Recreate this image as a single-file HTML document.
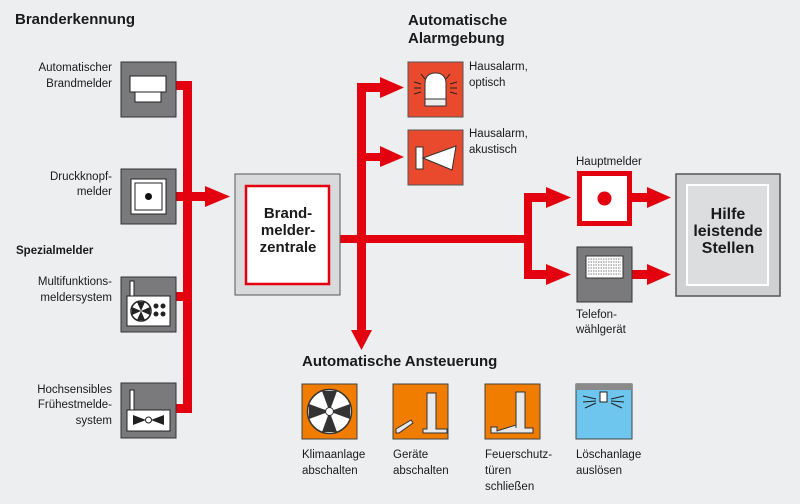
<!DOCTYPE html>
<html><head><meta charset="utf-8"><style>
body{margin:0;background:#edeef0}
svg{display:block}
text{font-family:"Liberation Sans",sans-serif;fill:#1a1a1a}
.b{font-weight:bold}
</style></head><body>
<svg width="800" height="504" viewBox="0 0 800 504">
<rect width="800" height="504" fill="#edeef0"/>
<g font-size="12">
<text x="15" y="24" class="b" font-size="15">Branderkennung</text>
<text x="408" y="25" class="b" font-size="15">Automatische</text>
<text x="408" y="43" class="b" font-size="15">Alarmgebung</text>
<text x="302" y="366" class="b" font-size="15">Automatische Ansteuerung</text>
<text x="16" y="254" class="b" font-size="11.5">Spezialmelder</text>
<g text-anchor="end" font-size="11.5">
<text x="112" y="71">Automatischer</text><text x="112" y="87">Brandmelder</text>
<text x="112" y="180">Druckknopf-</text><text x="112" y="195">melder</text>
<text x="112" y="285">Multifunktions-</text><text x="112" y="301">meldersystem</text>
<text x="112" y="393">Hochsensibles</text><text x="112" y="408">Frühestmelde-</text><text x="112" y="424">system</text>
</g>
<g font-size="11.5">
<text x="469" y="70">Hausalarm,</text><text x="469" y="86">optisch</text>
<text x="469" y="137">Hausalarm,</text><text x="469" y="153">akustisch</text>
<text x="576" y="165">Hauptmelder</text>
<text x="576" y="318">Telefon-</text><text x="576" y="333">wählgerät</text>
<text x="302" y="458">Klimaanlage</text><text x="302" y="474">abschalten</text>
<text x="393" y="458">Geräte</text><text x="393" y="474">abschalten</text>
<text x="485" y="458">Feuerschutz-</text><text x="485" y="474">türen</text><text x="485" y="490">schließen</text>
<text x="576" y="458">Löschanlage</text><text x="576" y="474">auslösen</text>
</g>
</g>
<g fill="#e3000f">
<rect x="183" y="81" width="9" height="332"/>
<rect x="175" y="81" width="10" height="9"/>
<rect x="175" y="292" width="10" height="9"/>
<rect x="175" y="404" width="10" height="9"/>
<rect x="175" y="192" width="32" height="9"/>
<polygon points="205,186 230,196.5 205,207"/>
<rect x="340" y="235" width="192" height="8"/>
<rect x="357" y="83" width="9" height="250"/>
<polygon points="351,330 372,330 361.5,350"/>
<rect x="357" y="83" width="26" height="9"/>
<polygon points="380,77 404,87.5 380,98"/>
<rect x="357" y="153" width="26" height="8"/>
<polygon points="380,146 404,157 380,167"/>
<rect x="524" y="193" width="8" height="85"/>
<rect x="524" y="193" width="25" height="9"/>
<polygon points="546,187 571,197.5 546,208"/>
<rect x="524" y="270" width="25" height="9"/>
<polygon points="546,264 571,274.5 546,285"/>
<rect x="632" y="193" width="18" height="9"/>
<polygon points="647,187 671,197.5 647,208"/>
<rect x="632" y="270" width="18" height="9"/>
<polygon points="647,264 671,274.5 647,285"/>
</g>
<g stroke="#333" stroke-width="1">
<rect x="121" y="62" width="55" height="55" fill="#7a7a7c"/>
<rect x="121" y="169" width="55" height="55" fill="#7a7a7c"/>
<rect x="121" y="277" width="55" height="55" fill="#7a7a7c"/>
<rect x="121" y="383" width="55" height="55" fill="#7a7a7c"/>
</g>
<g fill="#fff" stroke="#222" stroke-width="1">
<rect x="130" y="76" width="36" height="16"/>
<rect x="135" y="92" width="26" height="10"/>
<rect x="131" y="179" width="35" height="35"/>
<rect x="135" y="183" width="27" height="27"/>
<rect x="127" y="296" width="43" height="30"/>
<rect x="130" y="281" width="4" height="15"/>
<rect x="127" y="410" width="43" height="21"/>
<rect x="130" y="390" width="4" height="20"/>
</g>
<circle cx="148.5" cy="196.5" r="3.5" fill="#111"/>
<circle cx="141" cy="311" r="10" fill="#fff" stroke="#222" stroke-width="1.5"/>
<path d="M141 311 L137 302 L145 302Z M141 311 L150 307 L150 315Z M141 311 L137 320 L145 320Z M141 311 L132 307 L132 315Z" fill="#222"/>
<circle cx="156" cy="306" r="2.5" fill="#222"/><circle cx="163" cy="306" r="2.5" fill="#222"/><circle cx="156" cy="314" r="2.5" fill="#222"/><circle cx="163" cy="314" r="2.5" fill="#222"/>
<path d="M133 415 L146 420 L133 425Z M164 415 L151 420 L164 425Z" fill="#222"/>
<circle cx="148.5" cy="420" r="3" fill="#fff" stroke="#222"/>
<rect x="235" y="174" width="105" height="121" fill="#d9dadc" stroke="#555"/>
<rect x="246" y="186" width="83" height="98" fill="#fff" stroke="#e3000f" stroke-width="2.5"/>
<g class="b" font-size="15" text-anchor="middle">
<text x="288" y="218" class="b">Brand-</text><text x="288" y="235" class="b">melder-</text><text x="288" y="252" class="b">zentrale</text>
</g>
<rect x="408" y="62" width="55" height="55" fill="#e94a2e" stroke="#555"/>
<rect x="408" y="130" width="55" height="55" fill="#e94a2e" stroke="#555"/>
<path d="M425 106 L425 84 Q425 73 435.5 73 Q446 73 446 84 L446 106Z" fill="#fff" stroke="#333"/>
<rect x="425" y="99" width="21" height="7" fill="#eee" stroke="#333"/>
<g stroke="#222" stroke-width="1"><path d="M414 82 L421 84 M414 88 L421 88 M414 94 L421 92 M457 82 L450 84 M457 88 L450 88 M457 94 L450 92 M421 74 L425 79 M450 74 L446 79"/></g>
<rect x="416" y="147" width="7" height="22" fill="#fff" stroke="#333"/>
<polygon points="423,158 456,146 452,170" fill="#fff" stroke="#333"/>
<rect x="577" y="171" width="55" height="55" fill="#e3000f"/>
<rect x="582" y="176" width="45" height="45" fill="#fff"/>
<circle cx="604.5" cy="198.5" r="7" fill="#e3000f"/>
<rect x="577" y="247" width="55" height="55" fill="#7a7a7c" stroke="#333"/>
<rect x="586" y="256" width="37" height="22" fill="#fff" stroke="#333"/>
<g stroke="#555" stroke-width="0.8" stroke-dasharray="1.5 1"><path d="M588 259H621M588 262H621M588 265H621M588 268H621M588 271H621M588 274H621"/></g>
<rect x="676" y="174" width="104" height="122" fill="#d0d1d3" stroke="#555" stroke-width="1.5"/>
<rect x="687" y="185" width="81" height="100" fill="#dcdddf" stroke="#fff" stroke-width="2"/>
<g text-anchor="middle" font-size="16"><text x="728" y="219" class="b">Hilfe</text><text x="728" y="236" class="b">leistende</text><text x="728" y="253" class="b">Stellen</text></g>
<rect x="302" y="384" width="55" height="55" fill="#f07d00" stroke="#444"/>
<rect x="393" y="384" width="55" height="55" fill="#f07d00" stroke="#444"/>
<rect x="485" y="384" width="55" height="55" fill="#f07d00" stroke="#444"/>
<rect x="576" y="384" width="56" height="55" fill="#6ec6ee" stroke="#444"/>
<rect x="576" y="384" width="56" height="6" fill="#8a8a8a"/>
<circle cx="329.5" cy="411.5" r="22" fill="#fff" stroke="#333" stroke-width="1.5"/>
<path d="M329.5 411.5 L322 391 L337 391Z M329.5 411.5 L350 404 L350 419Z M329.5 411.5 L337 432 L322 432Z M329.5 411.5 L309 419 L309 404Z" fill="#333"/>
<circle cx="329.5" cy="411.5" r="4" fill="#fff" stroke="#333"/>
<path d="M427 429 L427 393 L436 393 L436 429 L447 429 L447 433 L423 433 L423 429Z" fill="#e8e8e8" stroke="#333"/>
<path d="M396 433 L396 429 L411 420 L413 423 L399 433Z" fill="#e8e8e8" stroke="#333"/>
<path d="M516 428 L516 392 L525 392 L525 428 L533 428 L533 433 L491 433 L491 427 L497 427 L497 431 L516 425Z" fill="#e8e8e8" stroke="#333"/>
<rect x="600" y="392" width="7" height="10" fill="#fff" stroke="#222"/>
<g stroke="#222" stroke-width="1"><path d="M583 396 L596 399 M583 402 L596 401 M585 408 L596 403 M624 396 L611 399 M624 402 L611 401 M622 408 L611 403"/></g>
</svg>
</body></html>
